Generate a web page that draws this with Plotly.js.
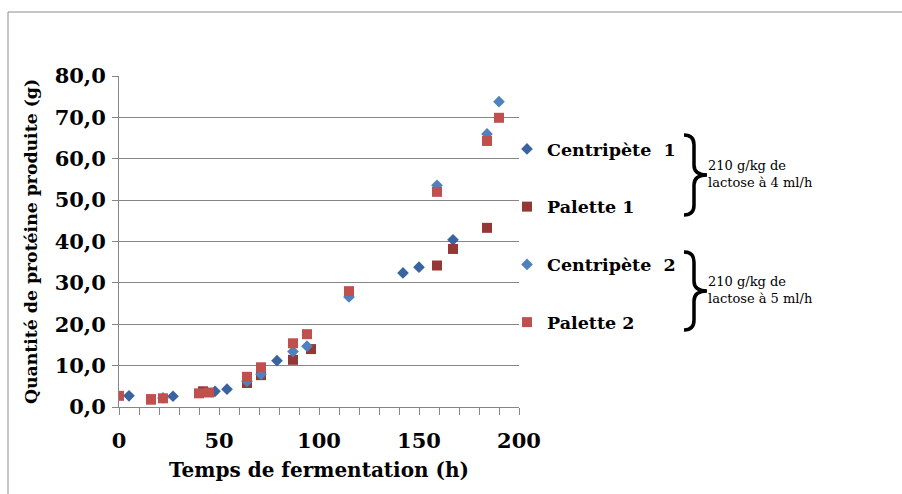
<!DOCTYPE html>
<html>
<head>
<meta charset="utf-8">
<script src="https://cdn.plot.ly/plotly-3.0.1.min.js"></script>
<style>html,body{margin:0;padding:0;background:#fff;}#chart{width:902px;height:494px;}</style>
</head>
<body>
<div id="chart"></div>
<script>
// ---- data ----
var seriesNames = ["Centripète  1", "Palette 1", "Centripète  2", "Palette 2"];

var centripete1X = [5, 27, 48, 54, 79, 142, 150, 167];
var centripete1Y = [2.7, 2.6, 3.8, 4.3, 11.2, 32.4, 33.8, 40.4];

var palette1X = [16, 42, 64, 71, 87, 96, 159, 167, 184];
var palette1Y = [1.8, 3.8, 5.8, 7.7, 11.4, 14.0, 34.2, 38.2, 43.3];

var centripete2X = [22, 64, 71, 87, 94, 115, 159, 184, 190];
var centripete2Y = [2.2, 6.2, 7.9, 13.4, 14.7, 26.6, 53.6, 66.0, 73.8];

var palette2X = [0, 16, 22, 40, 45, 64, 71, 87, 94, 115, 159, 184, 190];
var palette2Y = [2.7, 1.9, 2.1, 3.3, 3.5, 7.3, 9.6, 15.4, 17.6, 28.0, 52.0, 64.3, 69.9];

var xTickVals = [0, 50, 100, 150, 200];
var xTickText = ["0", "50", "100", "150", "200"];
var yTickVals = [0, 10, 20, 30, 40, 50, 60, 70, 80];
var yTickText = ["0,0", "10,0", "20,0", "30,0", "40,0", "50,0", "60,0", "70,0", "80,0"];

var groupNote1 = "210 g/kg de<br>lactose à 4 ml/h";
var groupNote2 = "210 g/kg de<br>lactose à 5 ml/h";

// ---- layout helpers (pixel -> paper) ----
var W = 902, H = 494;
var mL = 119, mR = 383, mT = 76, mB = 87;
var pw = W - mL - mR, ph = H - mT - mB;
function px(x) { return (x - mL) / pw; }
function py(y) { return (H - mB - y) / ph; }

var FONT = "DejaVu Serif, Liberation Serif, serif";
var gridCol = "#868686";

function mk(name, xs, ys, symbol, color, size, group) {
  return {
    type: "scatter", mode: "markers", name: name, x: xs, y: ys,
    legendgroup: group,
    marker: {symbol: symbol, color: color, size: size, line: {width: 0}},
    hoverinfo: "x+y"
  };
}

var traces = [
  mk(seriesNames[0], centripete1X, centripete1Y, "diamond", "#3A64A0", 9, "g1"),
  mk(seriesNames[1], palette1X, palette1Y, "square", "#953735", 10, "g2"),
  mk(seriesNames[2], centripete2X, centripete2Y, "diamond", "#4F81BD", 9, "g3"),
  mk(seriesNames[3], palette2X, palette2Y, "square", "#C0504D", 10, "g4")
];

function bracePath(xl, yt, yb, xs, xt) {
  var ym = (yt + yb) / 2;
  var c = 10;
  var pts = [
    "M", px(xl), py(yt),
    "Q", px(xs), py(yt), px(xs), py(yt + c),
    "L", px(xs), py(ym - c),
    "Q", px(xs), py(ym), px(xt), py(ym),
    "Q", px(xs), py(ym), px(xs), py(ym + c),
    "L", px(xs), py(yb - c),
    "Q", px(xs), py(yb), px(xl), py(yb)
  ];
  return pts.join(" ");
}

var layout = {
  width: W, height: H,
  margin: {l: mL, r: mR, t: mT, b: mB, pad: 0},
  paper_bgcolor: "#ffffff", plot_bgcolor: "#ffffff",
  font: {family: FONT, color: "#000000"},
  showlegend: true,
  legend: {
    x: px(507), y: py(131), xanchor: "left", yanchor: "top",
    font: {family: FONT, size: 17.5, color: "#000", weight: "bold"},
    traceorder: "grouped", tracegroupgap: 32,
    bgcolor: "rgba(0,0,0,0)", borderwidth: 0,
    itemsizing: "trace"
  },
  xaxis: {
    range: [0, 200], autorange: false,
    tickmode: "array", tickvals: xTickVals, ticktext: xTickText,
    ticks: "outside", ticklen: 7, tickcolor: gridCol, tickwidth: 1,
    minor: {dtick: 10, tick0: 0, ticks: "outside", ticklen: 7, tickcolor: gridCol, showgrid: false},
    showgrid: false, zeroline: false,
    showline: true, linecolor: gridCol, linewidth: 1,
    ticklabelstandoff: 8,
    tickfont: {family: FONT, size: 21, weight: "bold", color: "#000"},
    title: {text: "Temps de fermentation (h)", font: {family: FONT, size: 20, weight: "bold", color: "#000"}, standoff: 10}
  },
  yaxis: {
    range: [0, 80], autorange: false,
    tickmode: "array", tickvals: yTickVals, ticktext: yTickText,
    ticks: "outside", ticklen: 6, tickcolor: gridCol, tickwidth: 1,
    showgrid: true, gridcolor: gridCol, gridwidth: 1,
    zeroline: false, showline: true, linecolor: gridCol, linewidth: 1,
    ticklabelstandoff: 2,
    tickfont: {family: FONT, size: 21, weight: "bold", color: "#000"},
    title: {text: "Quantité de protéine produite (g)", font: {family: FONT, size: 17.3, weight: "bold", color: "#000"}, standoff: 12}
  },
  shapes: [
    {type: "line", xref: "paper", yref: "paper", x0: px(8), y0: py(12), x1: px(910), y1: py(12), line: {color: "#8c8c8c", width: 1}},
    {type: "line", xref: "paper", yref: "paper", x0: px(8), y0: py(12), x1: px(8), y1: py(500), line: {color: "#8c8c8c", width: 1}},
    {type: "path", xref: "paper", yref: "paper", path: bracePath(684, 135, 215, 694, 707), line: {color: "#000", width: 3.5}},
    {type: "path", xref: "paper", yref: "paper", path: bracePath(684, 252, 330, 694, 707), line: {color: "#000", width: 3.5}}
  ],
  annotations: [
    {xref: "paper", yref: "paper", x: px(706), y: py(174), xanchor: "left", yanchor: "middle", align: "left",
     text: groupNote1, showarrow: false, font: {family: FONT, size: 13, color: "#000"}},
    {xref: "paper", yref: "paper", x: px(706), y: py(290), xanchor: "left", yanchor: "middle", align: "left",
     text: groupNote2, showarrow: false, font: {family: FONT, size: 13, color: "#000"}}
  ]
};

Plotly.newPlot("chart", traces, layout, {staticPlot: true, displayModeBar: false});
</script>
</body>
</html>
